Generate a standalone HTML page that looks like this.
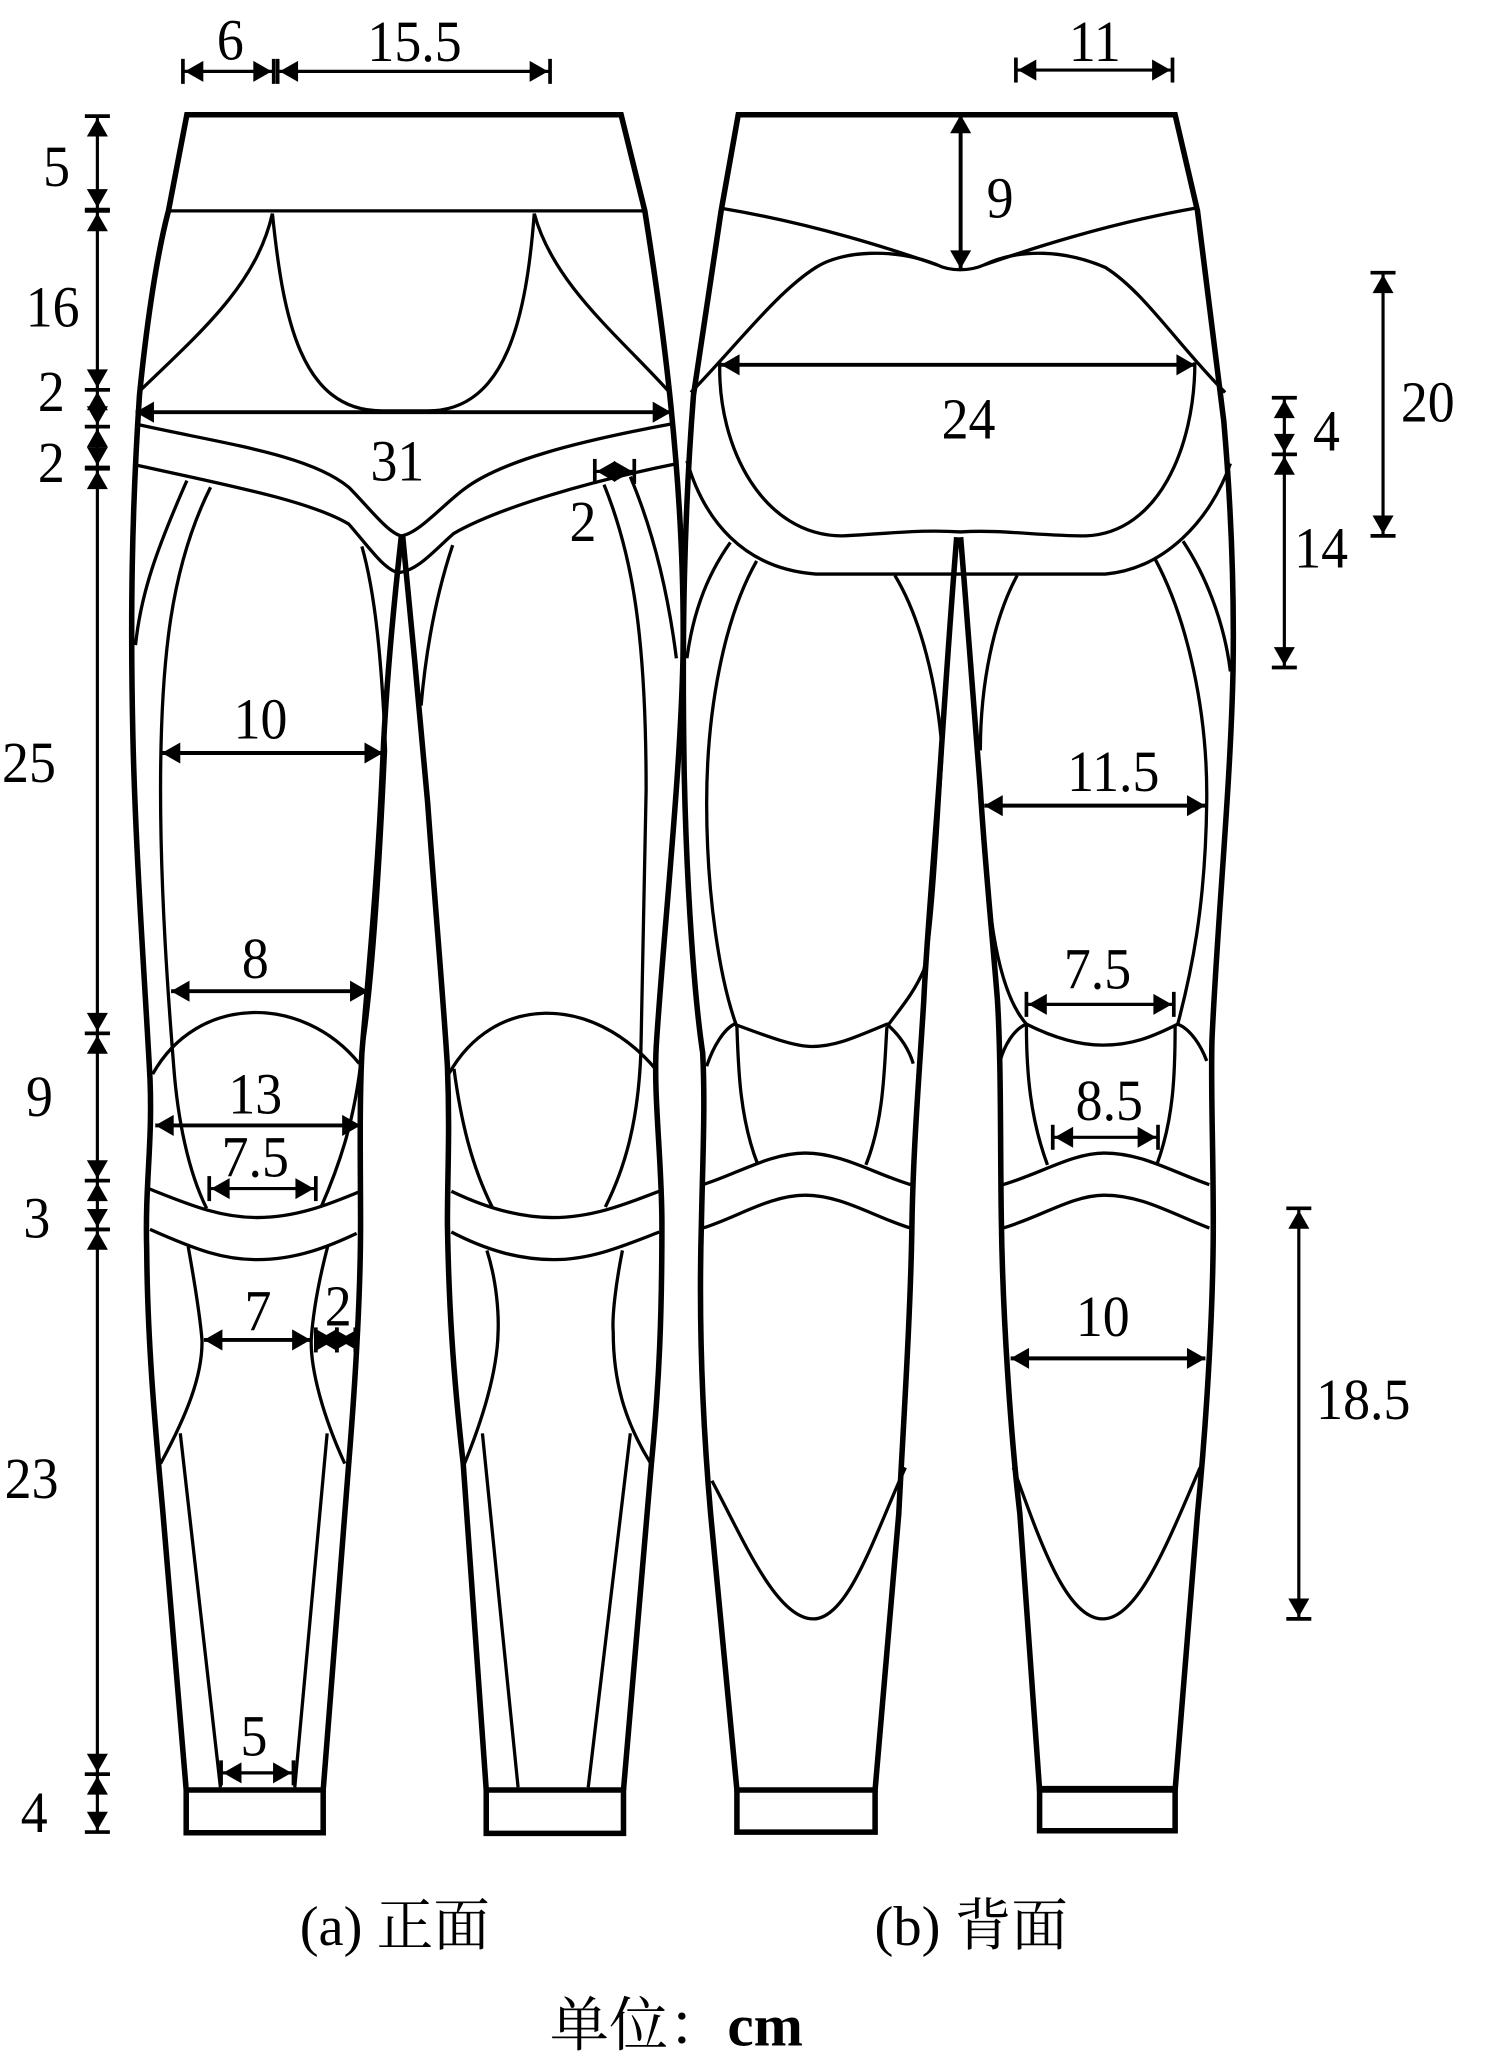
<!DOCTYPE html>
<html>
<head>
<meta charset="utf-8">
<style>
html,body{margin:0;padding:0;background:#fff;width:1487px;height:2064px;overflow:hidden}
svg{display:block}
text{font-family:"Liberation Serif","Noto Serif CJK SC",serif;font-size:44px;fill:#000;text-anchor:middle;transform-box:fill-box;transform-origin:center;transform:scaleX(.93)}
text.c{transform:none;font-size:43px}
.o{fill:none;stroke:#000;stroke-width:4.2;stroke-linejoin:miter}
.i{fill:none;stroke:#000;stroke-width:2.5}
.d{stroke:#000;stroke-width:2.4;marker-start:url(#t);marker-end:url(#t);fill:none}
.n{stroke:#000;stroke-width:3;marker-start:url(#a);marker-end:url(#a);fill:none}
</style>
</head>
<body>
<svg width="1487" height="2064" viewBox="0 0 1130 1568" xmlns="http://www.w3.org/2000/svg">
<defs>
<marker id="t" markerUnits="userSpaceOnUse" markerWidth="30" markerHeight="30" refX="20" refY="15" orient="auto-start-reverse" viewBox="0 0 30 30">
<path d="M4.5 7L18.5 15L4.5 23Z" fill="#000"/><path d="M20 5.5V24.5" stroke="#000" stroke-width="2.8"/>
</marker>
<marker id="a" markerUnits="userSpaceOnUse" markerWidth="30" markerHeight="30" refX="20" refY="15" orient="auto-start-reverse" viewBox="0 0 30 30">
<path d="M6 7L20 15L6 23Z" fill="#000"/>
</marker>
</defs>

<!-- FRONT outlines -->
<path class="o" d="M305 407C298 470 293 530 291 575C287 670 279 750 275 800C273 840 274 890 274 930C274 980 270 1050 265 1112L245.6 1360H141.5L123.6 1147C118 1085 112 1020 111.5 950C110 900 116 870 114 820C111 760 103 650 101 560C99 470 100 390 106 300C112 240 120 190 128 160L142 87H472L490 160C498 210 505 260 510 310C517 380 520 440 519 500C517 590 505 700 499 790C496 830 503 880 503 930C503 1000 501 1050 495 1112L473.8 1360"/>
<path class="o" d="M306 407C312 470 320 550 325 610C330 680 337 760 340 810C342 860 340 890 340 930C341 990 344 1040 352 1112L369.5 1360"/>
<path class="o" d="M369.5 1360H473.8V1393H369.5Z"/>
<path class="o" d="M141.5 1360V1392.5H245.6V1360" stroke-width="3.6"/>

<!-- FRONT inner -->
<path class="i" d="M128 160H490" stroke-width="3"/>
<path class="i" d="M207 162C195 215 155 250 106 297"/>
<path class="i" d="M406 162C420 215 470 255 508 297"/>
<path class="i" d="M207 162C215 240 228 312 290 312H325C385 312 400 240 406 162"/>
<path class="i" d="M103 322C170 337 235 345 265 370C280 385 295 405 305 407C318 405 335 385 352 372C380 350 440 335 510 322"/>
<path class="i" d="M103 353C170 368 235 380 265 398C280 415 292 433 303 435C318 433 330 418 345 405C380 385 450 365 515 352"/>
<path class="i" d="M142 365C120 415 107 450 103 490"/>
<path class="i" d="M160 370C130 430 122 500 122 600C122 680 128 760 132 810C135 850 143 890 157 918"/>
<path class="i" d="M275 415C285 450 290 500 293 570C288 680 282 760 275 800C270 850 258 885 244 917"/>
<path class="i" d="M344 414C332 450 324 490 320 536"/>
<path class="i" d="M459 368C480 420 491 480 491 600C490 680 488 760 487 800C485 850 476 885 460 917"/>
<path class="i" d="M479 362C495 400 507 445 514 500"/>
<path class="i" d="M345 812C350 850 358 885 374 917"/>
<path class="i" d="M116 816C150 755 230 755 273 808"/>
<path class="i" d="M341 816C375 755 450 755 498 812"/>
<path class="i" d="M113 903C150 918 170 925 195.5 925C225 925 250 915 274 905"/>
<path class="i" d="M114 934C150 950 170 957 195.5 957C225 957 250 947 271 937"/>
<path class="i" d="M343 905C370 918 395 925 420 925C450 925 475 915 501 905"/>
<path class="i" d="M343 936C370 950 395 957 421 957C450 957 475 946 501 936"/>
<path class="i" d="M143 947C148 975 152 1000 153.5 1018C154 1045 142 1075 122 1112"/>
<path class="i" d="M249 947C243 970 238 995 236.5 1018C236 1040 245 1075 262 1112"/>
<path class="i" d="M137 1089L167.5 1358"/>
<path class="i" d="M248.6 1089L224 1358"/>
<path class="i" d="M370 950C378 975 379 1000 378.5 1012C378 1040 368 1075 353 1112"/>
<path class="i" d="M473 950C468 975 465 1000 466 1012C466 1055 478 1085 494 1111"/>
<path class="i" d="M366.6 1089L393.7 1358"/>
<path class="i" d="M479 1089L447 1358"/>

<!-- BACK outlines -->
<path class="o" d="M727 408C722 470 718 530 715 575C710 650 704 715 702 760C699 810 694 870 693 930C692 1000 686 1090 683 1150L665 1360H560L540 1150C533 1070 531 1000 533 930C534 880 536 840 534 800C528 760 522 680 520 590C518 480 520 390 527 300L548 160L561 87H893L910 160L930 320C936 390 938 450 937 510C935 600 925 700 921 790C920 830 922 870 922 930C922 1000 916 1090 910 1150L893 1360H790L775 1150C768 1090 762 1000 761 930C760 880 761 810 758 760C754 710 748 650 745 600C740 530 735 470 730 408"/>
<path class="o" d="M560 1360V1392H665V1360" stroke-width="3.4"/>
<path class="o" d="M790 1358V1391H893V1358" stroke-width="3.4"/>
<path class="o" d="M790 1359H893"/>

<!-- BACK inner -->
<path class="i" d="M548 158C620 170 680 190 712 201C722 206 737 206 748 201C780 190 840 170 908 158" stroke-width="2.6"/>
<path class="i" d="M525 298C560 262 590 222 620 203C640 190 680 188 712 201M748 201C775 188 810 190 840 203C870 222 895 262 931 298"/>
<path class="i" d="M547 275C545 340 580 407 640 407C680 405 700 402 730 404C760 402 790 407 825 407C880 405 908 340 908 275"/>
<path class="i" d="M522 350C535 395 565 432 620 436H840C885 432 920 395 935 352" stroke-width="2.6"/>
<path class="i" d="M555 412C535 440 526 470 522 500"/>
<path class="i" d="M575 426C550 470 537 540 537 610C537 680 547 745 560 780"/>
<path class="i" d="M680 437C700 470 712 520 716 570C712 640 708 710 702 737C694 755 685 765 674 780"/>
<path class="i" d="M537 810C542 795 550 782 558 778C590 790 605 795 617 795C635 795 650 788 674 778C682 785 690 795 694 808"/>
<path class="i" d="M560 780C561 810 562 850 576 885"/>
<path class="i" d="M674 780C672 810 672 850 658 885"/>
<path class="i" d="M534 900C560 892 585 876 612 876C640 876 665 892 692 900"/>
<path class="i" d="M534 933C560 925 585 908 612 908C640 908 665 925 692 933"/>
<path class="i" d="M762 900C790 892 815 876 839 876C868 876 890 890 919 900"/>
<path class="i" d="M762 933C790 925 815 908 839 908C868 908 890 922 919 933"/>
<path class="i" d="M899 411C915 435 930 470 935 510"/>
<path class="i" d="M878 425C902 470 918 540 917 610C916 690 905 740 895 778"/>
<path class="i" d="M773 437C755 470 745 520 745 570"/>
<path class="i" d="M746 612C750 680 755 750 780 778"/>
<path class="i" d="M760 806C763 795 770 782 780 778C800 788 820 794 838 794C860 794 875 788 895 778C905 782 913 795 917 806"/>
<path class="i" d="M780 779C780 815 783 850 796 885"/>
<path class="i" d="M893 779C893 815 892 850 879 885"/>
<path class="i" d="M541 1125C565 1170 590 1230 618 1230C645 1230 665 1165 688 1115"/>
<path class="i" d="M770 1115C790 1170 810 1230 838 1230C866 1230 890 1165 912 1115"/>

<!-- Dimensions -->
<line class="d" x1="139" y1="54" x2="208" y2="54"/>
<line class="d" x1="211" y1="54" x2="418" y2="54"/>
<line class="d" x1="74" y1="88" x2="74" y2="159"/>
<line class="d" x1="74" y1="160" x2="74" y2="296"/>
<line class="d" x1="74" y1="296" x2="74" y2="324"/>
<line class="d" x1="74" y1="324" x2="74" y2="355"/>
<line class="d" x1="74" y1="356" x2="74" y2="785"/>
<line class="d" x1="74" y1="785" x2="74" y2="897"/>
<line class="d" x1="74" y1="897" x2="74" y2="934"/>
<line class="d" x1="74" y1="934" x2="74" y2="1348"/>
<line class="d" x1="74" y1="1348" x2="74" y2="1392"/>
<line class="n" x1="103" y1="313" x2="510" y2="313"/>
<line class="d" x1="452" y1="358" x2="482" y2="358"/>
<line class="n" x1="123" y1="572" x2="291" y2="572"/>
<line class="n" x1="130" y1="753" x2="280" y2="753"/>
<line class="n" x1="118" y1="855" x2="274" y2="855"/>
<line class="d" x1="159" y1="903" x2="240" y2="903"/>
<line class="n" x1="155" y1="1018" x2="236" y2="1018"/>
<line class="d" x1="240" y1="1018" x2="256" y2="1018"/>
<line class="d" x1="256" y1="1018" x2="270" y2="1018"/>
<line class="d" x1="168" y1="1347" x2="223" y2="1347"/>
<line class="d" x1="772" y1="53" x2="891" y2="53"/>
<line class="n" x1="730" y1="87" x2="730" y2="204"/>
<line class="n" x1="548" y1="277" x2="908" y2="277"/>
<line class="d" x1="976" y1="302" x2="976" y2="345"/>
<line class="d" x1="976" y1="345" x2="976" y2="507"/>
<line class="d" x1="1051" y1="207" x2="1051" y2="407"/>
<line class="n" x1="748" y1="612" x2="916" y2="612"/>
<line class="d" x1="780" y1="763" x2="892" y2="763"/>
<line class="d" x1="800" y1="864" x2="880" y2="864"/>
<line class="n" x1="768" y1="1032" x2="916" y2="1032"/>
<line class="d" x1="987" y1="918" x2="987" y2="1230"/>

<!-- Labels -->
<text x="175" y="45">6</text>
<text x="315" y="46">15.5</text>
<text x="43" y="141">5</text>
<text x="40" y="248">16</text>
<text x="39" y="312">2</text>
<text x="39" y="366">2</text>
<text x="22" y="594">25</text>
<text x="30" y="848">9</text>
<text x="28" y="940">3</text>
<text x="24" y="1138">23</text>
<text x="26" y="1392">4</text>
<text x="302" y="365">31</text>
<text x="443" y="411">2</text>
<text x="198" y="561">10</text>
<text x="194" y="743">8</text>
<text x="194" y="846">13</text>
<text x="194" y="894">7.5</text>
<text x="196" y="1011">7</text>
<text x="257" y="1007">2</text>
<text x="193" y="1334">5</text>
<text x="832" y="46">11</text>
<text x="760" y="165">9</text>
<text x="736" y="333">24</text>
<text x="1008" y="342">4</text>
<text x="1004" y="431">14</text>
<text x="1085" y="320">20</text>
<text x="846" y="601">11.5</text>
<text x="834" y="751">7.5</text>
<text x="843" y="851">8.5</text>
<text x="838" y="1015">10</text>
<text x="1036" y="1078">18.5</text>
<text class="c" x="300" y="1478">(a) 正面</text>
<text class="c" x="738" y="1478">(b) 背面</text>
<text class="c" x="514" y="1554" style="font-size:45px">单位：<tspan font-weight="bold">cm</tspan></text>
</svg>
</body>
</html>
